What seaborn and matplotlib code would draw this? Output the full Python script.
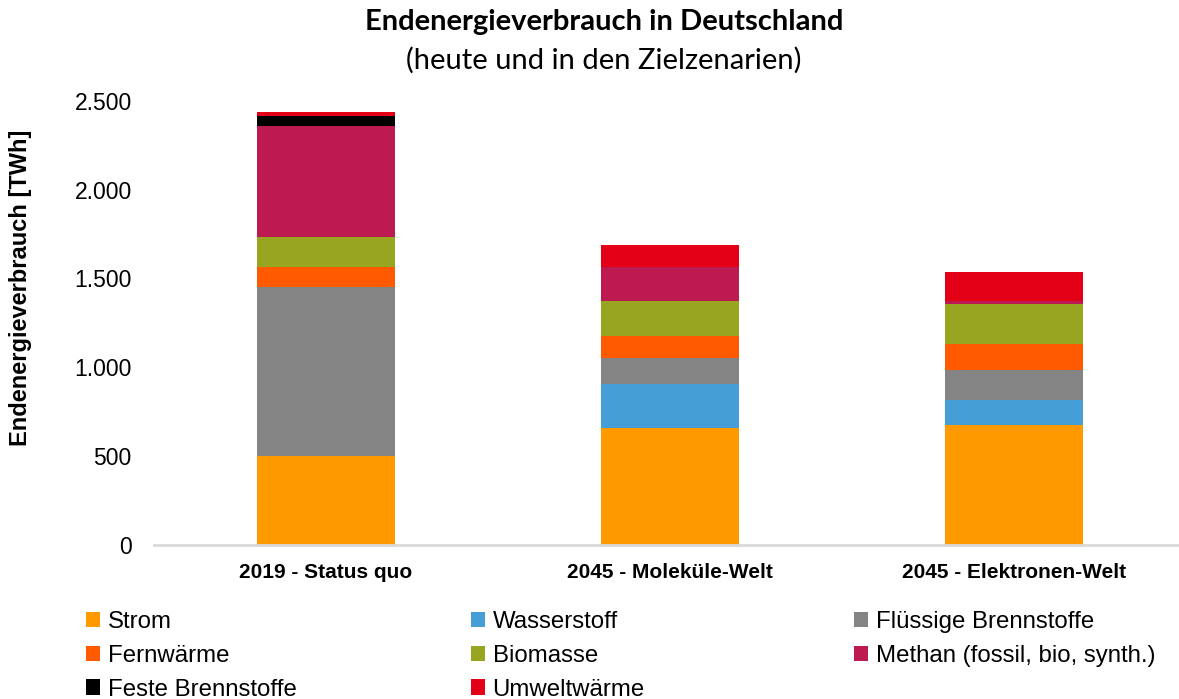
import matplotlib
matplotlib.use("Agg")
import matplotlib.pyplot as plt
import seaborn as sns
import numpy as np
import pandas as pd
from matplotlib.patches import Patch
from matplotlib.ticker import FuncFormatter

categories = ["2019 - Status quo", "2045 - Moleküle-Welt", "2045 - Elektronen-Welt"]
series_names = ["Strom", "Wasserstoff", "Flüssige Brennstoffe", "Fernwärme",
                "Biomasse", "Methan (fossil, bio, synth.)", "Feste Brennstoffe", "Umweltwärme"]
strom = [501, 657, 676]
wasserstoff = [0, 248, 139]
fluessig = [950, 146, 168]
fernwaerme = [112, 124, 147]
biomasse = [171, 197, 225]
methan = [627, 191, 19]
feste = [56, 0, 0]
umwelt = [23, 126, 163]
colors = ["#FF9900", "#459FD6", "#848484", "#FF5A00", "#97A520", "#BE1A52", "#000000", "#E30016"]
y_ticks = [0, 500, 1000, 1500, 2000, 2500]

series_values = [strom, wasserstoff, fluessig, fernwaerme, biomasse, methan, feste, umwelt]

sns.set_theme(style="white")
plt.rcParams['font.family'] = ['Liberation Sans', 'DejaVu Sans']
plt.rcParams['text.color'] = 'black'
plt.rcParams['axes.labelcolor'] = 'black'
plt.rcParams['xtick.color'] = 'black'
plt.rcParams['ytick.color'] = 'black'

fig = plt.figure(figsize=(11.79, 6.99), dpi=100)
ax = fig.add_axes([154/1179, 154.5/699, 1 - 154/1179, (544.5-101)/699])

bottom = np.zeros(len(categories))
for name, vals, col in zip(series_names, series_values, colors):
    df = pd.DataFrame({"cat": categories, "val": vals})
    sns.barplot(data=df, x="cat", y="val", bottom=bottom, color=col, saturation=1,
                width=0.4, errorbar=None, ax=ax, linewidth=0)
    bottom = bottom + np.array(vals)

ax.set_xlim(-0.5, 2.48)
ax.set_ylim(0, 2500)
ax.set_yticks(y_ticks)
ax.yaxis.set_major_formatter(FuncFormatter(lambda v, p: f"{int(v):,}".replace(",", ".")))
for s in ["top", "right", "left"]:
    ax.spines[s].set_visible(False)
ax.spines["bottom"].set_color("#D9D9D9")
ax.spines["bottom"].set_linewidth(2)
ax.tick_params(axis="y", length=0, pad=16, labelsize=16.5, colors="black")
ax.tick_params(axis="x", length=0, pad=13, labelsize=15, colors="black")
for lab in ax.get_xticklabels():
    lab.set_fontweight("bold")
ax.set_xlabel("")
ax.set_ylabel("Endenergieverbrauch [TWh]", fontsize=17, fontweight="bold", color="black")
ax.yaxis.set_label_coords((32 - 154) / 1025, (545 - 288) / 444)

fig.text(604/1179, 1 - 22/699, "Endenergieverbrauch in Deutschland", ha="center", va="center",
         fontsize=21, fontweight="bold", color="black", family=["Lato", "DejaVu Sans"])
fig.text(604/1179, 1 - 60/699, "(heute und in den Zielzenarien)", ha="center", va="center",
         fontsize=21, color="black", family=["Lato", "DejaVu Sans"])

handles = [Patch(facecolor=c, edgecolor="none", label=n) for n, c in zip(series_names, colors)]
cols = [[0, 3, 6], [1, 4, 7], [2, 5]]
xs = [86, 471, 854]
for idx, x in zip(cols, xs):
    leg = fig.legend(handles=[handles[i] for i in idx], loc="upper left",
                     bbox_to_anchor=(x/1179, 1 - 611/699), frameon=False, fontsize=17.3,
                     handlelength=0.6, handleheight=0.6, handletextpad=0.3, labelspacing=0.49,
                     borderpad=0, borderaxespad=0)
    for t in leg.get_texts():
        t.set_color("black")

fig.savefig("out.png", dpi=100)
